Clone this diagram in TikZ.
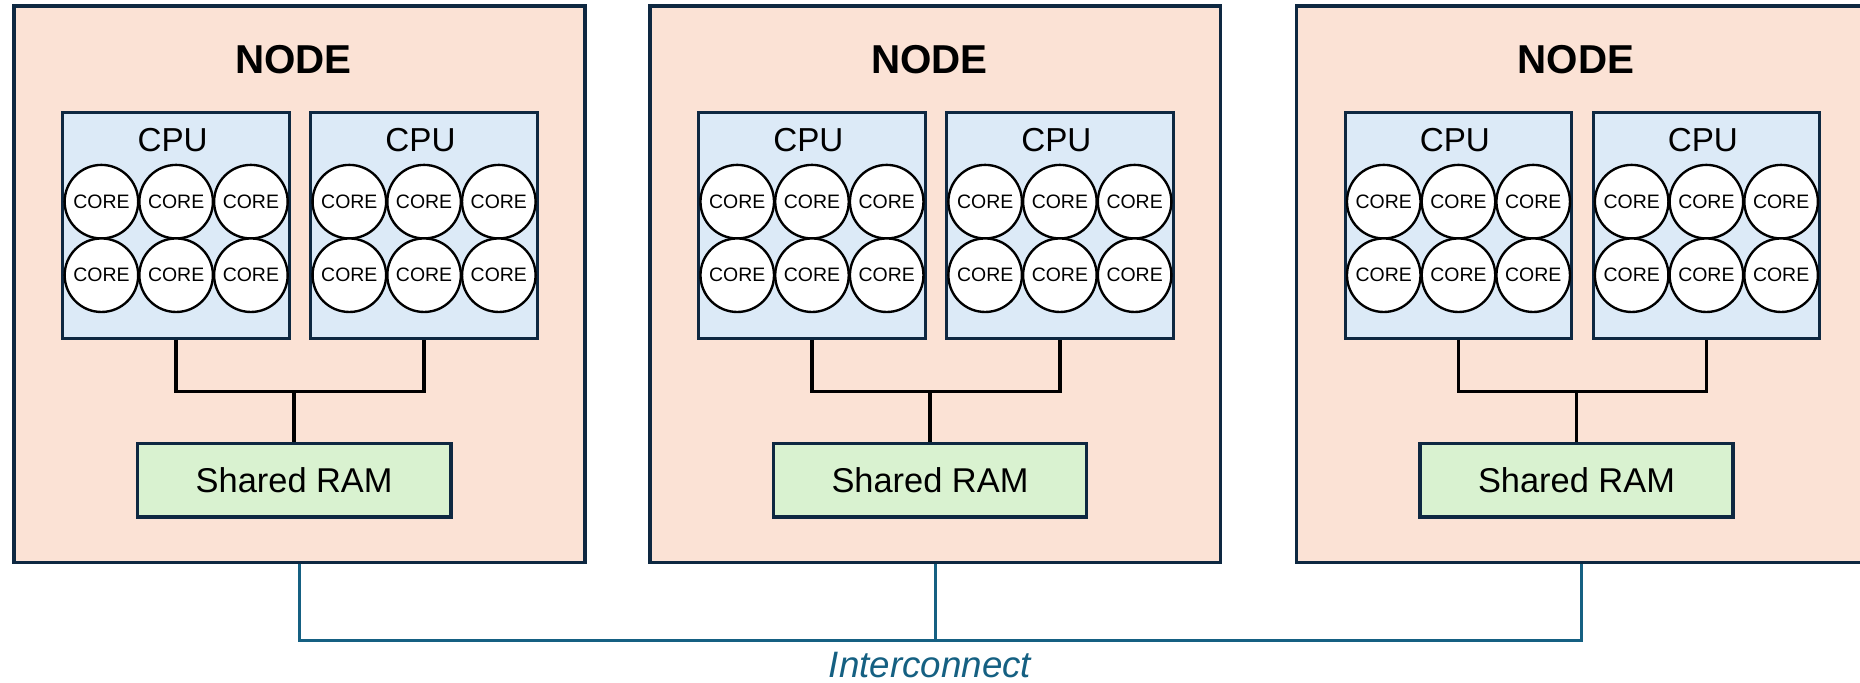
\documentclass[tikz,border=0pt]{standalone}
\usepackage{fontspec}
\setmainfont{Liberation Sans}
\definecolor{nodefill}{HTML}{FBE2D5}
\definecolor{frame}{HTML}{0E2841}
\definecolor{cpufill}{HTML}{DCEAF7}
\definecolor{ramfill}{HTML}{D9F2D0}
\definecolor{link}{HTML}{156082}
\begin{document}
\begin{tikzpicture}[x=0.5pt,y=-0.5pt,
  nodebox/.style={draw=frame,line width=1.5pt,fill=nodefill,minimum width=240.5pt,minimum height=234.5pt,inner sep=0pt},
  cpubox/.style={draw=frame,line width=1.25pt,fill=cpufill,minimum width=95.5pt,minimum height=95pt,inner sep=0pt},
  corenode/.style={circle,draw=black,line width=1pt,fill=white,minimum size=31pt,inner sep=0pt,font=\fontsize{8.2}{9}\selectfont},
  rambox/.style={draw=frame,line width=1.5pt,fill=ramfill,minimum width=132pt,minimum height=31pt,inner sep=0pt,font=\fontsize{14.5}{16}\selectfont},
  title/.style={inner sep=0pt,font=\fontsize{17}{19}\selectfont\bfseries},
  cpulabel/.style={inner sep=0pt,font=\fontsize{14}{16}\selectfont},
  wire/.style={draw=black,line width=1.6pt},
  netwire/.style={draw=link,line width=1.3pt},
]
\useasboundingbox (0,0) rectangle (1568,575);
\clip (0,0) rectangle (1568,575);

% three compute nodes, each with two CPUs of six cores and a shared RAM
\foreach \i/\cx in {1/252.5,2/788.5,3/1333.5}{
  \node[nodebox] (n\i) at (\cx,239.5) {};
  \node[title] (t\i) at (\cx-5,50) {NODE};
  \foreach \c/\dx in {a/-104,b/105}{
    \node[cpubox] (cpu\i\c) at (\cx+\dx,190) {};
    \node[cpulabel] (cl\i\c) at (\cx+\dx-3,118) {CPU};
    \foreach \r/\y in {1/170,2/232}
      \foreach \k/\ex in {1/-63,2/0,3/63}
        \node[corenode] (core\i\c\r\k) at (\cx+\dx+\ex,\y) {CORE};
  }
  \node[rambox] (ram\i) at (\cx-4.5,405) {Shared RAM};
  \coordinate (hub\i) at (\cx-4.5,330);
  \draw[wire] (cpu\i a.south) |- (hub\i) -| (cpu\i b.south);
  \draw[wire] (hub\i) -- (ram\i.north);
}

% interconnect bus between the nodes
\coordinate (bus) at (784,540);
\draw[netwire] (n1.south) |- (bus) -| (n3.south);
\draw[netwire] (n2.south) -- (n2.south |- bus);
\node[inner sep=0pt,font=\fontsize{15.5}{17}\selectfont\itshape,text=link] (ic) at (784,561) {Interconnect};
\end{tikzpicture}
\end{document}
